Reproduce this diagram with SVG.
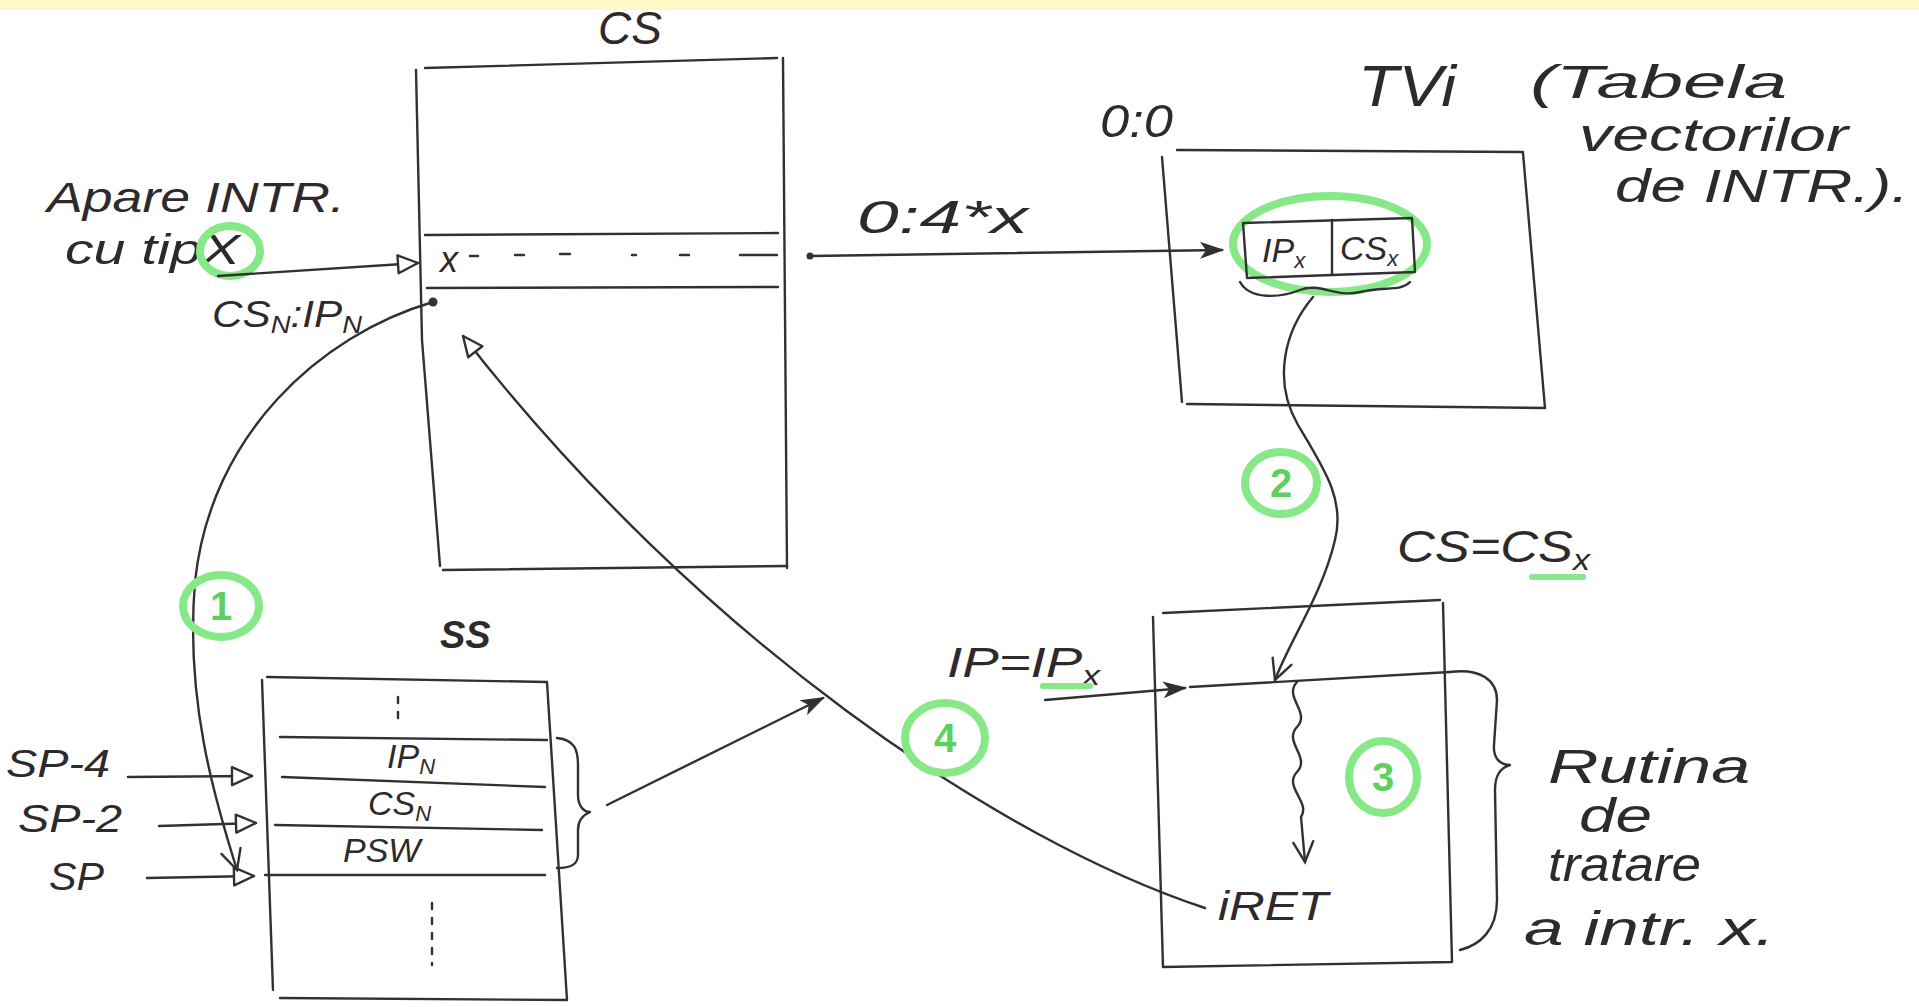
<svg xmlns="http://www.w3.org/2000/svg" width="1919" height="1007" viewBox="0 0 1919 1007">
<style>
.ln{fill:none;stroke:#333033;stroke-width:2.4;stroke-linecap:round;stroke-linejoin:round}
.g{fill:none;stroke:#86e886;stroke-width:8}
.t{font-family:"Liberation Sans",Arial,sans-serif;font-style:italic;fill:#2e2a2c}
.gn{font-family:"Liberation Sans",Arial,sans-serif;font-weight:bold;fill:#5fd05f;font-size:40px;text-anchor:middle}
.sub{font-size:0.65em}
</style>
<defs>
<marker id="tri" viewBox="-24 -12 28 24" refX="0" refY="0" markerWidth="28" markerHeight="24" markerUnits="userSpaceOnUse" orient="auto">
<path d="M0,0 L-20,-9 L-20,9 Z" fill="#fff" stroke="#333033" stroke-width="2.4" stroke-linejoin="round"/>
</marker>
<marker id="ftri" viewBox="-24 -12 28 24" refX="0" refY="0" markerWidth="28" markerHeight="24" markerUnits="userSpaceOnUse" orient="auto">
<path d="M0,0 L-20,-7 L-15,0 L-20,7 Z" fill="#333033" stroke="#333033" stroke-width="1.5"/>
</marker>
<marker id="vee" viewBox="-24 -14 28 28" refX="0" refY="0" markerWidth="28" markerHeight="28" markerUnits="userSpaceOnUse" orient="auto">
<path d="M-20,-10 L0,0 L-20,10" fill="none" stroke="#333033" stroke-width="2.4" stroke-linecap="round"/>
</marker>
</defs>
<rect x="0" y="0" width="1919" height="1007" fill="#ffffff"/>
<rect x="0" y="0" width="1919" height="10" fill="#fff9c8"/>

<g id="apare">
<text class="t" x="47" y="212" font-size="42" textLength="298" lengthAdjust="spacingAndGlyphs">Apare INTR.</text>
<text class="t" x="65" y="264" font-size="42" textLength="175" lengthAdjust="spacingAndGlyphs">cu tipX</text>
<ellipse class="g" cx="230" cy="251" rx="30" ry="25" stroke-width="6"/>
<text class="t" x="212" y="327" font-size="36" textLength="150" lengthAdjust="spacingAndGlyphs">CS<tspan class="sub" dy="6">N</tspan><tspan dy="-6">:IP</tspan><tspan class="sub" dy="6">N</tspan></text>
</g>

<g id="cs">
<text class="t" x="598" y="44" font-size="46">CS</text>
<path class="ln" d="M425,68 L777,58"/>
<path class="ln" d="M416,70 L422,340 L440,566"/>
<path class="ln" d="M783,58 L787,568"/>
<path class="ln" d="M443,570 L787,566"/>
<path class="ln" d="M425,235 L778,233"/>
<path class="ln" d="M427,288 L778,287"/>
<text class="t" x="440" y="272" font-size="36">x</text>
<path class="ln" d="M470,256 h8 M515,255 h9 M560,254 h10 M632,255 h4 M680,255 h9 M740,255 h37" stroke-width="2"/>
<circle cx="433" cy="302" r="4.5" fill="#333033"/>
</g>

<g id="tvi">
<text class="t" x="1100" y="137" font-size="46" textLength="73" lengthAdjust="spacingAndGlyphs">0:0</text>
<text class="t" x="1358" y="106" font-size="58" textLength="98" lengthAdjust="spacingAndGlyphs">TVi</text>
<text class="t" x="1530" y="98" font-size="46" textLength="257" lengthAdjust="spacingAndGlyphs">(Tabela</text>
<text class="t" x="1579" y="151" font-size="46" textLength="269" lengthAdjust="spacingAndGlyphs">vectorilor</text>
<text class="t" x="1615" y="202" font-size="46" textLength="294" lengthAdjust="spacingAndGlyphs">de INTR.).</text>
<path class="ln" d="M1177,150 L1523,152"/>
<path class="ln" d="M1162,157 L1182,402"/>
<path class="ln" d="M1523,153 L1545,408"/>
<path class="ln" d="M1187,404 L1545,408"/>
<ellipse class="g" cx="1330" cy="244" rx="97" ry="48"/>
<path class="ln" d="M1243,223 L1412,218 L1415,272 L1247,278 Z"/>
<path class="ln" d="M1332,220 L1332,275"/>
<text class="t" x="1262" y="262" font-size="34">IP<tspan class="sub" dy="6">x</tspan></text>
<text class="t" x="1340" y="260" font-size="34">CS<tspan class="sub" dy="6">x</tspan></text>
<path class="ln" d="M1240,282 C1250,300 1280,298 1300,290 C1320,282 1335,298 1360,292 C1385,286 1400,292 1410,282"/>
</g>

<g id="ss">
<text x="440" y="648" font-family="Liberation Sans, Arial, sans-serif" font-style="italic" font-weight="bold" font-size="38" fill="#2e2a2c">SS</text>
<path class="ln" d="M267,677 L547,682 M262,680 L273,990 M547,682 L567,1000 M280,998 L567,1000"/>
<path class="ln" d="M280,737 L547,740 M282,777 L545,787 M275,825 L542,830 M265,875 L545,875"/>
<path class="ln" d="M398,697 L398,722 M432,903 L432,965" stroke-dasharray="6 9" stroke-width="2"/>
<text class="t" x="387" y="768" font-size="34">IP<tspan class="sub" dy="6">N</tspan></text>
<text class="t" x="368" y="815" font-size="34">CS<tspan class="sub" dy="6">N</tspan></text>
<text class="t" x="343" y="862" font-size="34">PSW</text>
<path class="ln" d="M557,738 C575,740 578,750 578,765 L578,795 C578,805 583,812 590,812 C583,815 578,820 578,830 L578,855 C578,865 570,868 557,868"/>
<text class="t" x="6" y="777" font-size="38" textLength="104" lengthAdjust="spacingAndGlyphs">SP-4</text>
<text class="t" x="18" y="832" font-size="38" textLength="104" lengthAdjust="spacingAndGlyphs">SP-2</text>
<text class="t" x="49" y="890" font-size="38" textLength="55" lengthAdjust="spacingAndGlyphs">SP</text>
</g>

<g id="rutina">
<text class="t" x="1397" y="562" font-size="44" textLength="193" lengthAdjust="spacingAndGlyphs">CS=CS<tspan class="sub" dy="8">x</tspan></text>
<path d="M1532,577 L1583,577" stroke="#86e886" stroke-width="6" stroke-linecap="round"/>
<text class="t" x="947" y="677" font-size="42" textLength="153" lengthAdjust="spacingAndGlyphs">IP=IP<tspan class="sub" dy="8">x</tspan></text>
<path d="M1043,686 L1090,686" stroke="#86e886" stroke-width="6" stroke-linecap="round"/>
<path class="ln" d="M1163,613 L1440,600 M1153,617 L1163,967 M1443,603 L1452,962 M1163,967 L1452,962"/>
<path class="ln" d="M1190,687 L1450,672"/>
<path class="ln" d="M1450,672 C1480,668 1497,680 1497,700 L1494,745 C1493,758 1500,765 1510,765 C1500,768 1495,775 1495,790 L1497,900 C1497,930 1480,945 1460,950"/>
<text class="t" x="1218" y="920" font-size="40" textLength="110" lengthAdjust="spacingAndGlyphs">iRET</text>
<text class="t" x="1548" y="783" font-size="48" textLength="202" lengthAdjust="spacingAndGlyphs">Rutina</text>
<text class="t" x="1579" y="832" font-size="48" textLength="73" lengthAdjust="spacingAndGlyphs">de</text>
<text class="t" x="1548" y="881" font-size="48" textLength="153" lengthAdjust="spacingAndGlyphs">tratare</text>
<text class="t" x="1524" y="945" font-size="48" textLength="251" lengthAdjust="spacingAndGlyphs">a intr. x.</text>
</g>

<g id="connectors">
<path class="ln" d="M218,276 L418,263" marker-end="url(#tri)"/>
<path class="ln" d="M810,256 L1222,250" marker-end="url(#ftri)"/>
<circle cx="810" cy="256" r="3.5" fill="#333033"/>
<text class="t" x="857" y="233" font-size="46" textLength="171" lengthAdjust="spacingAndGlyphs">0:4*x</text>
<path class="ln" d="M1045,700 L1185,688" marker-end="url(#ftri)"/>
<path class="ln" d="M128,777 L252,776" marker-end="url(#tri)"/>
<path class="ln" d="M159,826 L256,823" marker-end="url(#tri)"/>
<path class="ln" d="M147,878 L254,876" marker-end="url(#tri)"/>
<path class="ln" d="M607,805 L823,698" marker-end="url(#ftri)"/>
<path class="ln" d="M433,302 C320,335 210,435 195,582 C185,700 215,800 237,870" marker-end="url(#vee)"/>
<path class="ln" d="M1313,297 C1285,330 1272,380 1298,425 C1325,470 1345,500 1335,540 C1322,595 1290,640 1275,680" marker-end="url(#vee)"/>
<path class="ln" d="M1297,682 c-14,15 14,30 0,45 c-14,15 14,30 0,45 c-14,15 14,30 4,45 L1305,862" marker-end="url(#vee)"/>
<path class="ln" d="M1205,908 C1000,840 700,640 463,336" marker-end="url(#tri)"/>
<ellipse class="g" cx="221" cy="606" rx="38" ry="31"/>
<text class="gn" x="221" y="620">1</text>
<ellipse class="g" cx="1281" cy="483" rx="36" ry="31"/>
<text class="gn" x="1281" y="497">2</text>
<ellipse class="g" cx="1383" cy="777" rx="34" ry="36"/>
<text class="gn" x="1383" y="791">3</text>
<ellipse class="g" cx="945" cy="738" rx="40" ry="35"/>
<text class="gn" x="945" y="752">4</text>
</g>
</svg>
